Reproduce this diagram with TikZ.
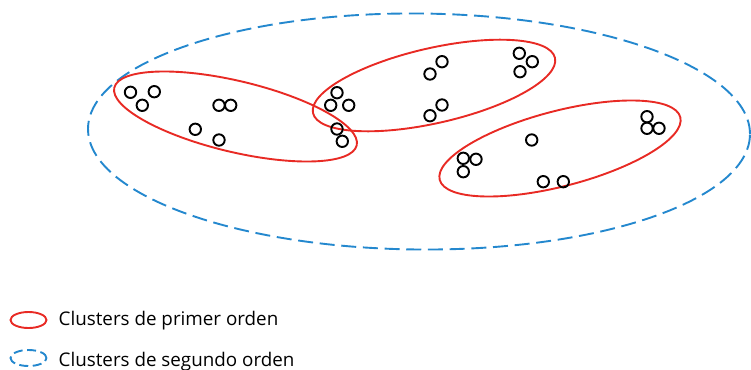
\documentclass[tikz,border=0pt]{standalone}
\usepackage{fontspec}
\setmainfont{Open Sans}
\definecolor{cred}{RGB}{232,42,36}
\definecolor{cblue}{RGB}{36,136,206}
\begin{document}
\begin{tikzpicture}[x=1pt,y=-1pt,
  pt/.style={circle,draw=black,line width=1.9pt,minimum size=11.4pt,inner sep=0pt},
  first/.style={draw=cred,line width=1.9pt},
  second/.style={draw=cblue,line width=1.9pt,dash pattern=on 15pt off 6.7pt},
  lbl/.style={anchor=base west,inner sep=0pt,font=\fontsize{18.8}{21}\selectfont}]
\useasboundingbox (0,0) rectangle (751,369);
% second order cluster
\draw[second,rotate around={-0.5:(419,131.5)}] (419,131.5) ellipse [x radius=331pt, y radius=118pt];
% first order clusters
\draw[first,rotate around={-13.4:(235.5,116.5)}] (235.5,116.5) ellipse [x radius=124.6pt, y radius=35.5pt];
\draw[first,rotate around={12.85:(434,85.5)}] (434,85.5) ellipse [x radius=124.1pt, y radius=37.5pt];
\draw[first,rotate around={14.6:(560,148.5)}] (560,148.5) ellipse [x radius=124.3pt, y radius=37.6pt];
% points
\node[pt] (a1) at (130.5,92.3) {};
\node[pt] (a2) at (154.3,91.7) {};
\node[pt] (a3) at (142.3,105.3) {};
\node[pt] (a4) at (219,105.3) {};
\node[pt] (a5) at (230.7,105.3) {};
\node[pt] (a6) at (195.3,129.3) {};
\node[pt] (a7) at (219,140) {};
\node[pt] (b1) at (337,92.7) {};
\node[pt] (b2) at (330.7,105.3) {};
\node[pt] (b3) at (348.7,105.3) {};
\node[pt] (b4) at (337,129) {};
\node[pt] (b5) at (342.3,141.3) {};
\node[pt] (c1) at (442,61.7) {};
\node[pt] (c2) at (430,74) {};
\node[pt] (c3) at (519.3,53.3) {};
\node[pt] (c4) at (532.3,61.7) {};
\node[pt] (c5) at (520,71.7) {};
\node[pt] (c6) at (442,105) {};
\node[pt] (c7) at (430,115.7) {};
\node[pt] (d1) at (531.7,140) {};
\node[pt] (d2) at (463.3,158.3) {};
\node[pt] (d3) at (476,159.3) {};
\node[pt] (d4) at (463.3,171.7) {};
\node[pt] (d5) at (543.3,181.7) {};
\node[pt] (d6) at (563.3,181.7) {};
\node[pt] (d7) at (647,116.7) {};
\node[pt] (d8) at (647,128.3) {};
\node[pt] (d9) at (659,128.3) {};
% legend
\draw[first] (28.5,320) ellipse [x radius=18pt, y radius=8pt];
\draw[draw=cblue,line width=1.9pt,dash pattern=on 9pt off 4.5pt] (28.5,358) ellipse [x radius=18pt, y radius=8pt];
\node[lbl] (l1) at (58.5,325.7) {Clusters de primer orden};
\node[lbl] (l2) at (58.5,366) {Clusters de segundo orden};
\end{tikzpicture}
\end{document}
